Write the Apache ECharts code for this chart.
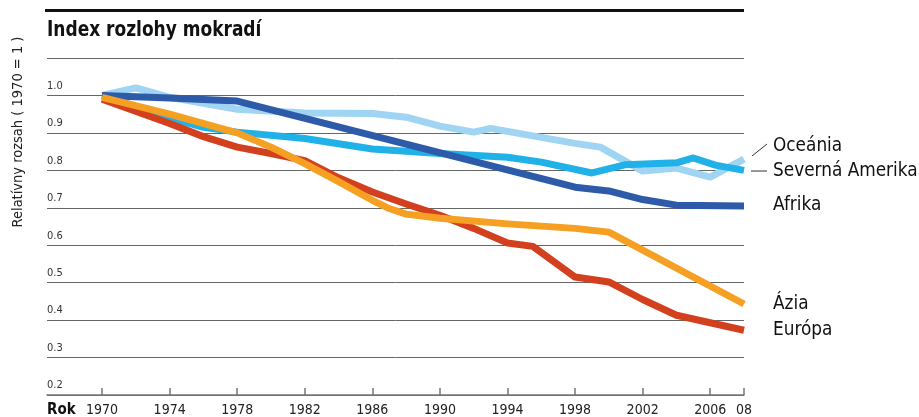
<!DOCTYPE html>
<html>
<head>
<meta charset="utf-8">
<script src="https://cdn.jsdelivr.net/npm/echarts@6/dist/echarts.min.js"></script>
<style>
  html, body { margin: 0; padding: 0; background: #fff; }
  #chart { width: 919px; height: 417px; }
</style>
</head>
<body>
<div id="chart"></div>
<script>
        // údaje odčítané z grafu
        const yearTicks = [1970, 1974, 1978, 1982, 1986, 1990, 1994, 1998, 2002, 2006, 2008];
        const yTicks = [0.2, 0.3, 0.4, 0.5, 0.6, 0.7, 0.8, 0.9, 1.0];

        const oceaniaYears = [1970, 1972, 1974, 1978, 1982, 1986, 1988, 1990, 1992, 1993, 1996, 1998, 1999.5, 2002, 2004, 2006, 2008];
        const oceaniaValues = [1.0, 1.02, 0.995, 0.963, 0.953, 0.952, 0.942, 0.918, 0.902, 0.912, 0.888, 0.872, 0.862, 0.798, 0.806, 0.782, 0.83];

        const amerikaYears = [1970, 1974, 1976, 1978, 1982, 1986, 1990, 1994, 1996, 1999, 2001, 2004, 2005, 2006.3, 2008];
        const amerikaValues = [1.0, 0.94, 0.915, 0.902, 0.885, 0.857, 0.845, 0.835, 0.822, 0.793, 0.815, 0.82, 0.833, 0.814, 0.8];

        const afrikaYears = [1970, 1974, 1978, 1998, 2000, 2002, 2004, 2008];
        const afrikaValues = [1.0, 0.993, 0.985, 0.755, 0.745, 0.722, 0.707, 0.705];

        const europaYears = [1970, 1974, 1976, 1978, 1980, 1982, 1984, 1986, 1988, 1990, 1992, 1994, 1995.5, 1998, 2000, 2002, 2004, 2008];
        const europaValues = [0.99, 0.925, 0.89, 0.862, 0.845, 0.826, 0.78, 0.742, 0.71, 0.68, 0.645, 0.606, 0.597, 0.515, 0.502, 0.455, 0.413, 0.373];

        const aziaYears = [1970, 1974, 1978, 1980, 1982, 1984, 1986, 1987, 1988, 1990, 1994, 1998, 2000, 2008];
        const aziaValues = [0.995, 0.95, 0.9, 0.862, 0.818, 0.77, 0.72, 0.698, 0.683, 0.672, 0.657, 0.645, 0.635, 0.443];

        const font = "'Liberation Sans Narrow', 'DejaVu Sans Condensed', 'Liberation Sans', sans-serif";

        const pairs = (xs, ys) => xs.map((x, i) => [x, ys[i]]);

        const line = (name, xs, ys, color) => ({
            name: name,
            type: 'line',
            data: pairs(xs, ys),
            showSymbol: false,
            silent: true,
            lineStyle: { color: color, width: 7, join: 'round' }
        });

        // popisky vpravo
        const label = (text, y) => ({
            type: 'text', x: 773, y: y, scaleX: 0.94,
            style: { text: text, font: "20px " + font, fill: '#111', verticalAlign: 'middle' }
        });

        const chartDom = document.getElementById('chart');
        const myChart = echarts.init(chartDom);

        const option = {
            animation: false,
            textStyle: { fontFamily: font },
            grid: { left: 47, right: 175, top: 58, bottom: 22 },
            xAxis: {
                type: 'value',
                min: 1966.74,
                max: 2008,
                axisLine: { show: true, lineStyle: { color: '#777', width: 1.5 } },
                axisTick: {
                    show: true,
                    inside: true,
                    length: 7,
                    customValues: yearTicks,
                    lineStyle: { color: '#777', width: 1.5 }
                },
                axisLabel: {
                    customValues: yearTicks,
                    margin: 8,
                    fontFamily: font,
                    fontSize: 14,
                    color: '#222',
                    formatter: v => v === 2008 ? '08' : String(v)
                },
                splitLine: { show: false }
            },
            yAxis: {
                type: 'value',
                min: 0.2,
                max: 1.1,
                interval: 0.1,
                axisLine: { show: false },
                axisTick: { show: false },
                axisLabel: {
                    inside: true,
                    margin: 0,
                    verticalAlign: 'bottom',
                    padding: [0, 0, 4, 0],
                    fontFamily: font,
                    fontSize: 11,
                    color: '#333',
                    formatter: v => v > 1.05 ? '' : v.toFixed(1)
                },
                splitLine: { lineStyle: { color: '#666', width: 1 } }
            },
            series: [
                line('Oceánia', oceaniaYears, oceaniaValues, '#9fd4f2'),
                line('Severná Amerika', amerikaYears, amerikaValues, '#1fb1e7'),
                line('Afrika', afrikaYears, afrikaValues, '#2d5ba9'),
                line('Európa', europaYears, europaValues, '#d2401e'),
                line('Ázia', aziaYears, aziaValues, '#f5a023')
            ],
            graphic: [
                { type: 'rect', shape: { x: 45, y: 9, width: 699, height: 3 }, style: { fill: '#111' } },
                { type: 'text', x: 47, y: 30, scaleX: 0.86, style: { text: 'Index rozlohy mokradí', font: "bold 22px " + font, fill: '#111', verticalAlign: 'middle' } },
                { type: 'text', x: 18, y: 132, rotation: Math.PI / 2, style: { text: 'Relatívny rozsah ( 1970 = 1 )', font: "14.5px " + font, fill: '#222', align: 'center', verticalAlign: 'middle' } },
                { type: 'text', x: 47, y: 410, style: { text: 'Rok', font: "bold 15px " + font, fill: '#111', verticalAlign: 'middle' } },
                { type: 'line', shape: { x1: 752, y1: 156, x2: 767, y2: 144 }, style: { stroke: '#333', lineWidth: 1 } },
                { type: 'line', shape: { x1: 751, y1: 171, x2: 767, y2: 171 }, style: { stroke: '#333', lineWidth: 1 } },
                label('Oceánia', 146),
                label('Severná Amerika', 171),
                label('Afrika', 205),
                label('Ázia', 304),
                label('Európa', 330)
            ]
        };

        myChart.setOption(option);

        window.addEventListener('resize', () => {
            myChart.resize();
        });
</script>
</body>
</html>
